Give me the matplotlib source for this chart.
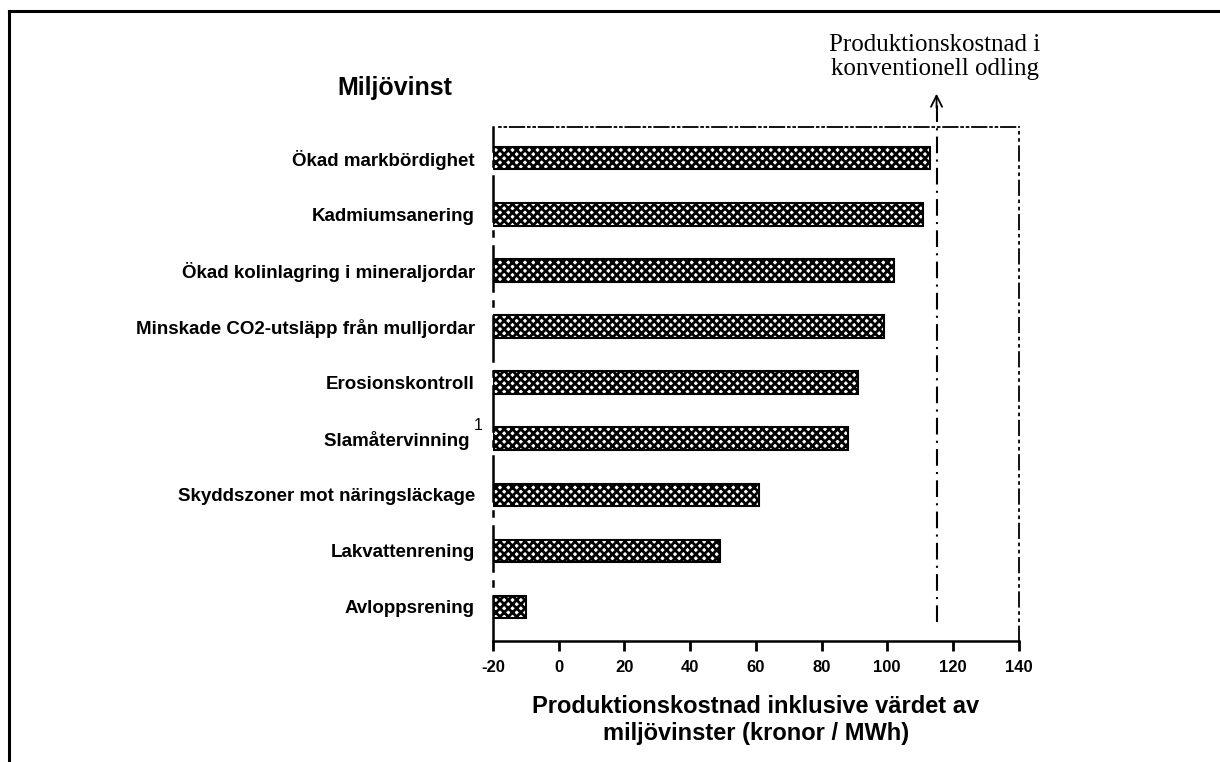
import matplotlib
matplotlib.use("Agg")
import matplotlib.pyplot as plt
from matplotlib.lines import Line2D

# data (kronor / MWh), listed bottom -> top
kategorier = [
    "Avloppsrening",
    "Lakvattenrening",
    "Skyddszoner mot näringsläckage",
    "Slamåtervinning",
    "Erosionskontroll",
    "Minskade CO2-utsläpp från mulljordar",
    "Ökad kolinlagring i mineraljordar",
    "Kadmiumsanering",
    "Ökad markbördighet",
]
kostnad = [-10, 49, 61, 88, 91, 99, 102, 111, 113]
bas = -20
konventionell = 115
xticks = [-20, 0, 20, 40, 60, 80, 100, 120, 140]

plt.rcParams["hatch.linewidth"] = 2.0

fig = plt.figure(figsize=(12.2, 7.62), dpi=100)
ax = fig.add_axes([0.404, 0.1588, 0.431, 0.6745])

y = list(range(len(kategorier)))
ax.barh(y, [k - bas for k in kostnad], left=bas, height=0.4,
        color="white", edgecolor="black", hatch="xxxx", linewidth=1.5)

ax.set_xlim(-20, 140)
ax.set_ylim(-0.606, 8.556)
ax.set_xticks(xticks)
ax.set_xticklabels([str(t) for t in xticks], fontsize=12, fontweight="bold",
                   family="Liberation Sans")
ax.tick_params(axis="x", direction="out", length=7, width=2, pad=7)

# Slamåtervinning-etiketten sitter lite längre till vänster pga fotnoten
etiketter = [k + " " if k == "Slamåtervinning" else k for k in kategorier]
ax.set_yticks(y)
ax.set_yticklabels(etiketter, fontsize=13.5, fontweight="bold",
                   family="Liberation Sans")
ax.tick_params(axis="y", length=0, pad=13)

# fotnot 1 efter Slamåtervinning
ax.annotate("1", xy=(0, kategorier.index("Slamåtervinning")),
            xycoords=("axes fraction", "data"), xytext=(-13.5, 4),
            textcoords="offset points", fontsize=11.5, family="Liberation Sans",
            ha="left", va="bottom")

ax.spines["bottom"].set_linewidth(1.8)
ax.spines["left"].set_linewidth(1.8)
ax.spines["left"].set_linestyle((0, (18, 4, 2, 4)))
ax.spines["top"].set_linewidth(1.3)
ax.spines["top"].set_linestyle((0, (1, 2, 1, 2, 8, 2)))
ax.spines["top"].set_bounds(-18, 140)
ax.spines["right"].set_linewidth(1.3)
ax.spines["right"].set_linestyle((0, (8, 3, 1, 3, 1, 3)))

# konventionell odling
ax.plot([konventionell, konventionell], [-0.27, 8.95], color="black", lw=1.5,
        linestyle=(0, (8, 3, 1, 3)), clip_on=False)
ax.annotate("", xy=(konventionell, 9.2), xytext=(konventionell, 8.85),
            arrowprops=dict(arrowstyle="->", color="black", lw=1.3,
                            mutation_scale=20),
            annotation_clip=False)
fig.text(935 / 1220, 1 - 57 / 762, "Produktionskostnad i\nkonventionell odling",
         ha="center", va="center", fontsize=18, family="Liberation Serif",
         linespacing=1.15)

fig.text(395 / 1220, 1 - 88 / 762, "Miljövinst", ha="center", va="center",
         fontsize=18, fontweight="bold", family="Liberation Sans")

ax.set_xlabel("Produktionskostnad inklusive värdet av\nmiljövinster (kronor / MWh)",
              fontsize=17, fontweight="bold", family="Liberation Sans",
              labelpad=14, linespacing=1.25)

# ram runt figuren
fig.add_artist(Line2D([9 / 1220, 1.0], [1 - 11 / 762, 1 - 11 / 762],
                      transform=fig.transFigure, color="black", lw=2.2))
fig.add_artist(Line2D([9 / 1220, 9 / 1220], [1 - 11 / 762, 0.0],
                      transform=fig.transFigure, color="black", lw=2.2))

fig.savefig("out.png", dpi=100, facecolor="white")
